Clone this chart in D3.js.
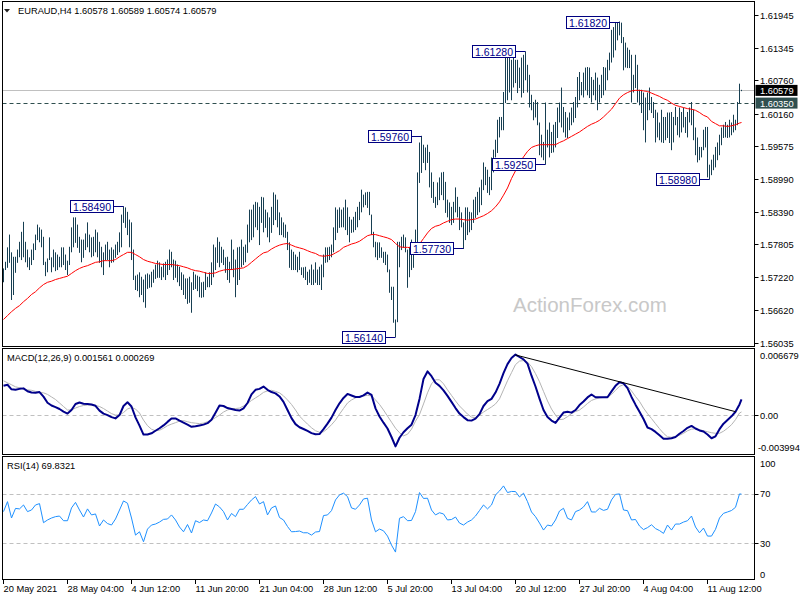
<!DOCTYPE html>
<html>
<head>
<meta charset="utf-8">
<script src="https://cdn.jsdelivr.net/npm/d3@7/dist/d3.min.js"></script>
<style>
html,body{margin:0;padding:0;background:#fff;}
svg{display:block;}
</style>
</head>
<body>
<script>
// ---------- DATA ----------
const titleText = "EURAUD,H4  1.60578 1.60589 1.60574 1.60579";
const macdTitle = "MACD(12,26,9) 0.001561 0.000269";
const rsiTitle = "RSI(14) 69.8321";
const watermark = "ActionForex.com";

// H4 bar highs / lows (one per bar)
const highs = [
1.5737,1.5749,1.5775,1.5798,1.5766,1.5758,1.5758,1.5771,1.5785,1.5803,
1.5821,1.5785,1.5771,1.5757,1.5771,1.5782,1.5798,1.5816,1.5811,1.5807,
1.5794,1.5749,1.5755,1.5793,1.5757,1.5771,1.5766,1.5762,1.5758,1.5775,
1.5775,1.5762,1.5751,1.5776,1.5811,1.5829,1.5829,1.5816,1.5794,1.5789,
1.5789,1.5800,1.5820,1.5798,1.5793,1.5794,1.5807,1.5802,1.5785,1.5776,
1.5766,1.5780,1.5785,1.5771,1.5775,1.5771,1.5780,1.5785,1.5802,1.5834,
1.5849,1.5847,1.5839,1.5825,1.5820,1.5771,1.5724,1.5726,1.5730,1.5722,
1.5717,1.5726,1.5728,1.5726,1.5731,1.5735,1.5744,1.5751,1.5748,1.5740,
1.5746,1.5749,1.5753,1.5771,1.5767,1.5753,1.5751,1.5744,1.5740,1.5730,
1.5726,1.5719,1.5719,1.5722,1.5712,1.5731,1.5726,1.5724,1.5722,
1.5712,1.5713,1.5730,1.5722,1.5730,1.5748,1.5780,1.5775,1.5793,1.5785,
1.5776,1.5771,1.5757,1.5758,1.5749,1.5789,1.5771,1.5753,1.5775,1.5776,
1.5789,1.5776,1.5780,1.5816,1.5843,1.5843,1.5852,1.5857,1.5856,1.5848,
1.5866,1.5865,1.5843,1.5838,1.5829,1.5848,1.5874,1.5870,1.5861,1.5838,
1.5829,1.5820,1.5816,1.5803,1.5784,1.5771,1.5767,1.5762,1.5758,1.5767,
1.5739,1.5739,1.5740,1.5731,1.5735,1.5744,1.5735,1.5748,1.5735,1.5740,
1.5744,1.5762,1.5775,1.5775,1.5776,1.5780,1.5811,1.5847,1.5843,1.5847,
1.5843,1.5847,1.5861,1.5847,1.5830,1.5825,1.5830,1.5839,1.5848,1.5857,
1.5879,1.5870,1.5874,1.5875,1.5875,1.5834,1.5803,1.5785,1.5784,1.5784,
1.5775,1.5767,1.5767,1.5762,1.5735,1.5704,1.5704,1.5645,1.5785,1.5785,
1.5794,1.5798,1.5793,1.5771,1.5776,1.5789,1.5776,1.5807,1.5910,1.5964,
1.5976,1.5960,1.5955,1.5960,1.5947,1.5910,1.5893,1.5866,1.5892,1.5901,
1.5910,1.5911,1.5893,1.5861,1.5856,1.5848,1.5857,1.5883,1.5866,1.5848,
1.5838,1.5820,1.5847,1.5847,1.5839,1.5838,1.5861,1.5866,1.5875,1.5883,
1.5897,1.5928,1.5920,1.5915,1.5902,1.5937,1.5951,1.5969,1.6005,1.6010,
1.6010,1.6055,1.6126,1.6122,1.6117,1.6113,1.6117,1.6113,1.6113,1.6099,
1.6117,1.6122,1.6128,1.6104,1.6086,1.6050,1.6037,1.6041,1.6037,1.6000,
1.5978,1.5965,1.6036,1.5987,1.6000,1.5983,1.5996,1.6001,1.6027,1.6036,
1.6063,1.6028,1.6019,1.6009,1.6018,1.6027,1.6037,1.6046,1.6082,1.6091,
1.6073,1.6090,1.6099,1.6100,1.6099,1.6082,1.6077,1.6090,1.6081,1.6068,
1.6086,1.6100,1.6099,1.6113,1.6126,1.6167,1.6172,1.6180,1.6181,1.6182,
1.6180,1.6154,1.6144,1.6135,1.6131,1.6122,1.6086,1.6122,1.6104,1.6059,
1.6059,1.6054,1.6045,1.6054,1.6063,1.6046,1.6037,1.6023,1.6018,1.6000,
1.6023,1.6010,1.6010,1.6018,1.6018,1.6019,1.6010,1.6028,1.6010,1.6027,
1.6019,1.6027,1.6010,1.6019,1.6027,1.6037,1.6023,1.5991,1.5973,1.5956,
1.5956,1.5987,1.5992,1.5992,1.5924,1.5933,1.5942,1.5956,1.5964,1.5978,
1.5991,1.5996,1.6001,1.5996,1.6005,1.6000,1.6014,1.6005,1.6037,1.6070,
1.60589];
const lows = [
1.5713,1.5735,1.5739,1.5748,1.5681,1.5690,1.5730,1.5748,1.5758,1.5753,
1.5758,1.5749,1.5740,1.5735,1.5744,1.5753,1.5771,1.5789,1.5785,1.5776,
1.5744,1.5724,1.5731,1.5753,1.5731,1.5740,1.5733,1.5735,1.5740,1.5740,
1.5744,1.5735,1.5726,1.5744,1.5767,1.5776,1.5784,1.5775,1.5766,1.5749,
1.5757,1.5771,1.5776,1.5767,1.5758,1.5760,1.5767,1.5758,1.5748,1.5740,
1.5726,1.5753,1.5753,1.5740,1.5748,1.5749,1.5757,1.5762,1.5767,1.5776,
1.5820,1.5811,1.5798,1.5776,1.5753,1.5717,1.5699,1.5697,1.5686,1.5690,
1.5677,1.5667,1.5701,1.5703,1.5704,1.5712,1.5719,1.5721,1.5721,1.5717,
1.5722,1.5717,1.5726,1.5735,1.5740,1.5717,1.5721,1.5713,1.5706,1.5699,
1.5690,1.5683,1.5674,1.5676,1.5658,1.5699,1.5701,1.5697,1.5686,
1.5685,1.5686,1.5699,1.5704,1.5704,1.5708,1.5722,1.5735,1.5748,1.5740,
1.5748,1.5744,1.5730,1.5717,1.5712,1.5735,1.5722,1.5686,1.5708,1.5717,
1.5740,1.5744,1.5749,1.5766,1.5785,1.5789,1.5794,1.5812,1.5807,1.5780,
1.5820,1.5803,1.5811,1.5794,1.5785,1.5802,1.5816,1.5825,1.5812,1.5798,
1.5798,1.5794,1.5793,1.5771,1.5739,1.5735,1.5735,1.5735,1.5731,1.5735,
1.5726,1.5721,1.5717,1.5708,1.5712,1.5708,1.5708,1.5712,1.5708,1.5708,
1.5699,1.5722,1.5748,1.5749,1.5753,1.5758,1.5767,1.5789,1.5802,1.5811,
1.5812,1.5812,1.5807,1.5798,1.5785,1.5802,1.5803,1.5807,1.5812,1.5825,
1.5839,1.5848,1.5852,1.5847,1.5834,1.5798,1.5776,1.5758,1.5753,1.5757,
1.5757,1.5748,1.5744,1.5731,1.5694,1.5681,1.5640,1.5614,1.5641,1.5740,
1.5771,1.5775,1.5767,1.5703,1.5722,1.5735,1.5739,1.5771,1.5785,1.5892,
1.5910,1.5928,1.5915,1.5928,1.5884,1.5865,1.5856,1.5847,1.5852,1.5861,
1.5870,1.5861,1.5838,1.5830,1.5820,1.5816,1.5820,1.5839,1.5830,1.5807,
1.5812,1.5773,1.5789,1.5798,1.5803,1.5807,1.5820,1.5829,1.5834,1.5839,
1.5852,1.5879,1.5888,1.5874,1.5870,1.5879,1.5911,1.5938,1.5946,1.5974,
1.5987,1.5987,1.6036,1.6041,1.6055,1.6041,1.6064,1.6072,1.6054,1.6063,
1.6046,1.6054,1.6077,1.6055,1.6028,1.6023,1.6005,1.6010,1.5996,1.5942,
1.5938,1.5933,1.5925,1.5956,1.5938,1.5946,1.5947,1.5956,1.5973,1.6001,
1.5992,1.5983,1.5974,1.5973,1.5987,1.5996,1.6001,1.6009,1.6028,1.6041,
1.6050,1.6046,1.6059,1.6050,1.6045,1.6037,1.6050,1.6041,1.6023,1.6037,
1.6045,1.6050,1.6059,1.6077,1.6095,1.6109,1.6118,1.6131,1.6149,1.6158,
1.6144,1.6095,1.6100,1.6099,1.6099,1.6037,1.6055,1.6063,1.6037,1.6032,
1.6018,1.5987,1.5965,1.6005,1.6023,1.6018,1.6009,1.5965,1.5974,1.5969,
1.5965,1.5964,1.5969,1.5973,1.5964,1.5951,1.5965,1.5996,1.5978,1.5974,
1.5983,1.5992,1.5982,1.5974,1.6001,1.5996,1.5969,1.5942,1.5929,1.5933,
1.5938,1.5951,1.5956,1.5902,1.5898,1.5906,1.5915,1.5920,1.5933,1.5942,
1.5960,1.5973,1.5974,1.5973,1.5974,1.5978,1.5983,1.5987,1.5996,1.6036,
1.60574];

// indicator values, sampled every 2nd bar (plus the final bar)
const maVals = [
1.5645,1.5652,1.5659,1.5665,1.5670,1.5677,1.5683,1.5690,1.5695,1.5702,
1.5708,1.5712,1.5714,1.5717,1.5719,1.5721,1.5723,1.5728,1.5733,1.5737,
1.5740,1.5742,1.5745,1.5748,1.5749,1.5751,1.5751,1.5751,1.5753,1.5758,
1.5762,1.5766,1.5766,1.5762,1.5758,1.5753,1.5750,1.5748,1.5746,1.5745,
1.5744,1.5744,1.5744,1.5743,1.5742,1.5740,1.5738,1.5735,1.5733,1.5732,
1.5730,1.5728,1.5728,1.5729,1.5732,1.5734,1.5735,1.5735,1.5736,1.5737,
1.5738,1.5742,1.5748,1.5754,1.5760,1.5765,1.5767,1.5772,1.5776,1.5779,
1.5781,1.5782,1.5779,1.5776,1.5774,1.5772,1.5769,1.5766,1.5764,1.5760,
1.5759,1.5760,1.5761,1.5765,1.5769,1.5775,1.5778,1.5781,1.5783,1.5786,
1.5791,1.5796,1.5798,1.5798,1.5796,1.5794,1.5792,1.5789,1.5782,1.5776,
1.5775,1.5775,1.5774,1.5774,1.5781,1.5791,1.5801,1.5809,1.5813,1.5815,
1.5819,1.5822,1.5825,1.5826,1.5826,1.5825,1.5824,1.5825,1.5826,1.5829,
1.5832,1.5836,1.5841,1.5848,1.5857,1.5869,1.5882,1.5899,1.5913,1.5927,
1.5938,1.5948,1.5955,1.5958,1.5960,1.5960,1.5960,1.5960,1.5960,1.5964,
1.5967,1.5971,1.5975,1.5979,1.5983,1.5988,1.5993,1.5997,1.6000,1.6004,
1.6010,1.6017,1.6024,1.6034,1.6044,1.6050,1.6054,1.6057,1.6058,1.6058,
1.6057,1.6056,1.6053,1.6050,1.6047,1.6043,1.6040,1.6035,1.6031,1.6029,
1.6027,1.6025,1.6024,1.6022,1.6018,1.6013,1.6010,1.6002,1.5998,1.5994,
1.5994,1.5993,1.5994,1.5996,1.5999,1.6000];
const macdVals = [
0.00295,0.00306,0.00259,0.00254,0.00264,0.00269,0.00240,0.00226,0.00223,0.00231,
0.00184,0.00122,0.00093,0.00076,0.00057,0.00031,0.00010,0.00047,0.00109,0.00124,
0.00111,0.00109,0.00103,0.00090,0.00041,0.00010,-0.00005,-0.00026,-0.00039,-0.00005,
0.00088,0.00126,0.00083,-0.00029,-0.00114,-0.00205,-0.00205,-0.00192,-0.00166,-0.00140,
-0.00111,-0.00075,-0.00041,-0.00039,-0.00062,-0.00083,-0.00104,-0.00126,-0.00119,-0.00111,
-0.00103,-0.00088,-0.00052,0.00019,0.00093,0.00088,0.00067,0.00057,0.00047,0.00041,
0.00064,0.00119,0.00207,0.00254,0.00264,0.00288,0.00254,0.00231,0.00218,0.00186,
0.00130,0.00047,-0.00036,-0.00098,-0.00130,-0.00148,-0.00168,-0.00190,-0.00202,-0.00200,
-0.00150,-0.00093,-0.00031,0.00047,0.00116,0.00171,0.00212,0.00196,0.00181,0.00181,
0.00197,0.00226,0.00202,0.00064,-0.00019,-0.00083,-0.00143,-0.00230,-0.00326,-0.00238,
-0.00181,-0.00140,-0.00104,-0.00005,0.00161,0.00365,0.00443,0.00394,0.00326,0.00295,
0.00249,0.00192,0.00130,0.00067,0.00010,-0.00026,-0.00057,-0.00062,-0.00041,0.00005,
0.00088,0.00137,0.00161,0.00226,0.00316,0.00425,0.00518,0.00580,0.00616,0.00591,
0.00567,0.00523,0.00399,0.00288,0.00164,0.00047,-0.00026,-0.00062,-0.00085,-0.00031,
0.00021,0.00028,0.00020,0.00047,0.00098,0.00134,0.00176,0.00206,0.00178,0.00178,
0.00178,0.00178,0.00238,0.00295,0.00332,0.00321,0.00271,0.00181,0.00102,0.00029,
-0.00045,-0.00133,-0.00150,-0.00178,-0.00212,-0.00247,-0.00247,-0.00243,-0.00230,-0.00197,
-0.00168,-0.00136,-0.00116,-0.00143,-0.00163,-0.00174,-0.00205,-0.00243,-0.00223,-0.00150,
-0.00093,-0.00055,-0.00018,0.00029,0.00104,0.00156];
const signalVals = [
0.00347,0.00326,0.00306,0.00285,0.00275,0.00264,0.00254,0.00249,0.00238,0.00228,
0.00223,0.00207,0.00181,0.00155,0.00119,0.00083,0.00047,0.00047,0.00067,0.00083,
0.00093,0.00098,0.00098,0.00093,0.00083,0.00062,0.00036,0.00010,-0.00005,-0.00005,
0.00021,0.00057,0.00073,0.00057,0.00016,-0.00057,-0.00114,-0.00150,-0.00166,-0.00161,
-0.00140,-0.00114,-0.00098,-0.00083,-0.00067,-0.00062,-0.00073,-0.00083,-0.00088,-0.00093,
-0.00088,-0.00073,-0.00057,-0.00031,-0.00005,0.00026,0.00047,0.00062,0.00062,0.00067,
0.00088,0.00114,0.00145,0.00171,0.00197,0.00228,0.00243,0.00249,0.00238,0.00223,
0.00192,0.00150,0.00104,0.00047,-0.00016,-0.00057,-0.00098,-0.00135,-0.00166,-0.00181,
-0.00176,-0.00145,-0.00104,-0.00057,0.00005,0.00062,0.00119,0.00150,0.00171,0.00186,
0.00192,0.00197,0.00192,0.00150,0.00104,0.00047,-0.00016,-0.00078,-0.00140,-0.00186,
-0.00218,-0.00202,-0.00150,-0.00067,0.00000,0.00109,0.00223,0.00316,0.00357,0.00357,
0.00316,0.00254,0.00197,0.00140,0.00088,0.00047,0.00005,-0.00026,-0.00031,-0.00005,
0.00026,0.00052,0.00078,0.00109,0.00161,0.00254,0.00347,0.00430,0.00513,0.00549,
0.00554,0.00539,0.00492,0.00420,0.00337,0.00238,0.00140,0.00057,-0.00005,-0.00052,
-0.00047,-0.00021,0.00010,0.00031,0.00047,0.00078,0.00114,0.00145,0.00161,0.00171,
0.00176,0.00181,0.00207,0.00249,0.00290,0.00306,0.00290,0.00243,0.00186,0.00135,
0.00067,0.00010,-0.00041,-0.00093,-0.00145,-0.00192,-0.00228,-0.00233,-0.00228,-0.00212,
-0.00192,-0.00166,-0.00150,-0.00145,-0.00155,-0.00166,-0.00176,-0.00186,-0.00192,-0.00192,
-0.00171,-0.00140,-0.00104,-0.00052,0.00016,0.00027];
const rsiVals = [
55.6,63.7,50.4,58.2,57.8,61.0,55.6,56.9,61.0,62.1,
46.6,48.8,50.4,51.5,52.0,48.2,48.2,58.6,63.1,56.9,
51.2,57.8,52.9,53.7,43.9,48.8,45.9,44.7,49.6,56.9,
64.3,62.4,50.4,36.5,39.2,31.1,41.4,44.7,45.5,47.1,
49.3,49.6,52.9,48.8,43.1,39.2,45.1,38.2,48.2,46.7,
48.8,48.2,54.5,61.8,59.4,55.6,48.8,54.1,51.5,57.5,
57.5,61.4,65.1,67.8,61.8,63.7,52.9,58.6,60.2,50.8,
48.8,43.5,39.2,39.4,39.8,38.4,38.4,36.5,39.0,39.4,
52.4,52.9,56.4,65.1,69.2,70.6,67.8,58.6,57.5,61.0,
65.9,66.5,48.8,39.2,41.4,40.0,35.7,28.4,22.7,50.2,
51.5,48.2,48.4,55.6,71.1,66.3,66.5,56.9,52.9,54.7,
53.7,48.8,49.2,51.2,46.3,44.7,47.1,48.8,52.0,56.5,
61.0,57.8,61.0,69.2,72.4,76.5,71.1,72.0,71.9,67.5,
70.6,63.7,55.3,51.5,46.3,40.6,44.7,43.9,48.8,56.1,
58.3,50.2,48.8,55.6,56.9,59.4,63.7,55.3,55.3,58.3,
56.6,57.5,65.1,69.6,70.0,56.9,56.4,48.8,49.2,43.9,
41.0,42.6,44.9,41.8,40.2,37.9,44.7,40.6,45.5,45.5,
47.1,48.2,52.0,43.1,38.4,42.2,35.7,35.7,41.2,50.4,
54.2,55.3,56.5,59.1,70.0,69.8];

// axis labels
const priceTicks = [1.61945,1.61345,1.60760,1.60160,1.59575,1.58990,1.58390,1.57805,1.57220,1.56620,1.56035];
const dateTickBars = [0,32,64,96,128,160,192,224,256,288,320,352];
const dateLabels = ["20 May 2021","28 May 04:00","4 Jun 12:00","11 Jun 20:00","21 Jun 04:00","28 Jun 12:00","5 Jul 20:00","13 Jul 04:00","20 Jul 12:00","27 Jul 20:00","4 Aug 04:00","11 Aug 12:00"];
const macdMax = 0.006679, macdMin = -0.003994;
const rsiLevels = [70, 30];
const rsiAxisLabels = [100, 70, 30, 0];

// price annotations (swing highs/lows)
const annBars = [60, 196, 209, 230, 261, 271, 308, 353];
const annPrices = [1.58490, 1.56140, 1.59760, 1.57730, 1.61280, 1.59250, 1.61820, 1.58980];

const bidPrice = 1.60579;
const levelPrice = 1.60350;
const trendBars = [256, 366];
const trendVals = [0.00612, 0.00030];

// ---------- DRAW ----------
const FONT = '"Liberation Sans", Arial, sans-serif';
const N = highs.length;
const svg = d3.select("body").append("svg")
  .attr("width", 800).attr("height", 600)
  .style("font-family", FONT);
svg.append("rect").attr("width", 800).attr("height", 600).attr("fill", "#fff");

const L = 2.5, R = 754.5;
const P = {main: [1.5, 346.5], macd: [348.5, 454.5], rsi: [456.5, 579.5]};

const x = d3.scaleLinear().domain([0, N - 1]).range([3.5, 741.5]);
const y = d3.scaleLinear().domain([1.56035, 1.61945]).range([342.5, 14.6]);
const yM = d3.scaleLinear().domain([macdMin, macdMax]).range([453.5, 349.5]);
const yR = d3.scaleLinear().domain([0, 100]).range([580, 457]);
const sb = k => Math.min(2 * k, N - 1);

const defs = svg.append("defs");
Object.entries(P).forEach(([k, [t, b]]) => {
  defs.append("clipPath").attr("id", "clip-" + k)
    .append("rect").attr("x", L).attr("y", t).attr("width", R - L).attr("height", b - t);
});

// ----- main panel -----
const gM = svg.append("g").attr("clip-path", "url(#clip-main)");
gM.append("text").attr("x", 513).attr("y", 312).attr("font-size", 20.5)
  .attr("fill", "#c8c8c8").text(watermark);

gM.append("line").attr("x1", L).attr("x2", R)
  .attr("y1", Math.round(y(bidPrice)) + 0.5).attr("y2", Math.round(y(bidPrice)) + 0.5)
  .attr("stroke", "#c0c0c0").attr("stroke-width", 1);
gM.append("line").attr("x1", L).attr("x2", R)
  .attr("y1", Math.round(y(levelPrice)) + 0.5).attr("y2", Math.round(y(levelPrice)) + 0.5)
  .attr("stroke", "#2f4f4f").attr("stroke-width", 1).attr("stroke-dasharray", "4,3");

gM.append("g").selectAll("line").data(d3.range(N)).join("line")
  .attr("x1", i => x(i)).attr("x2", i => x(i))
  .attr("y1", i => y(highs[i])).attr("y2", i => y(lows[i]) + 0.5)
  .attr("stroke", "#173f52").attr("stroke-width", 1);

gM.append("path").datum(maVals)
  .attr("d", d3.line().x((d, k) => x(sb(k))).y(d => y(d)))
  .attr("fill", "none").attr("stroke", "#ff0000").attr("stroke-width", 1);

const ann = gM.append("g");
annBars.forEach((b, j) => {
  const bx = x(b), by = Math.round(y(annPrices[j])) + 0.5;
  ann.append("line").attr("x1", bx - 10).attr("x2", bx).attr("y1", by).attr("y2", by)
    .attr("stroke", "#000080").attr("stroke-width", 1);
  ann.append("rect").attr("x", bx - 53).attr("y", by - 6).attr("width", 43).attr("height", 12)
    .attr("fill", "#fff").attr("stroke", "#000080").attr("stroke-width", 1);
  ann.append("text").attr("x", bx - 31.5).attr("y", by + 4).attr("text-anchor", "middle")
    .attr("font-size", 10.5).attr("fill", "#00008b").text(annPrices[j].toFixed(5));
});

// header
svg.append("path").attr("d", "M4,9 L10,9 L7,12.5 Z").attr("fill", "#222");
svg.append("text").attr("x", 18).attr("y", 14).attr("font-size", 9.3).attr("fill", "#000").text(titleText);

// ----- MACD panel -----
const gD = svg.append("g").attr("clip-path", "url(#clip-macd)");
const z0 = Math.round(yM(0)) + 0.5;
gD.append("line").attr("x1", L).attr("x2", R).attr("y1", z0).attr("y2", z0)
  .attr("stroke", "#c0c0c0").attr("stroke-dasharray", "4,3");
gD.append("path").datum(signalVals)
  .attr("d", d3.line().x((d, k) => x(sb(k))).y(d => yM(d)))
  .attr("fill", "none").attr("stroke", "#b4b4b4").attr("stroke-width", 1);
gD.append("path").datum(macdVals)
  .attr("d", d3.line().x((d, k) => x(sb(k))).y(d => yM(d)))
  .attr("fill", "none").attr("stroke", "#00008b").attr("stroke-width", 2).attr("stroke-linejoin", "round");
gD.append("line")
  .attr("x1", x(trendBars[0])).attr("y1", yM(trendVals[0]))
  .attr("x2", x(trendBars[1])).attr("y2", yM(trendVals[1]))
  .attr("stroke", "#000").attr("stroke-width", 1);
svg.append("text").attr("x", 7).attr("y", 361).attr("font-size", 9.3).text(macdTitle);

// ----- RSI panel -----
const gR = svg.append("g").attr("clip-path", "url(#clip-rsi)");
rsiLevels.forEach(v => {
  const yy = Math.round(yR(v)) + 0.5;
  gR.append("line").attr("x1", L).attr("x2", R).attr("y1", yy).attr("y2", yy)
    .attr("stroke", "#c0c0c0").attr("stroke-dasharray", "4,3");
});
gR.append("path").datum(rsiVals)
  .attr("d", d3.line().x((d, k) => x(sb(k))).y(d => yR(d)))
  .attr("fill", "none").attr("stroke", "#1e90ff").attr("stroke-width", 1);
svg.append("text").attr("x", 7).attr("y", 469).attr("font-size", 9.3).text(rsiTitle);

// ----- frames -----
Object.values(P).forEach(([t, b]) => {
  svg.append("rect").attr("x", L).attr("y", t).attr("width", R - L).attr("height", b - t)
    .attr("fill", "none").attr("stroke", "#000").attr("stroke-width", 1);
});

// ----- right axes -----
const ax = svg.append("g").attr("font-size", 9.3).attr("fill", "#000");
priceTicks.forEach(p => {
  const yy = Math.round(y(p)) + 0.5;
  ax.append("line").attr("x1", R).attr("x2", R + 4).attr("y1", yy).attr("y2", yy).attr("stroke", "#000");
  ax.append("text").attr("x", 760).attr("y", yy + 3.5).text(p.toFixed(5));
});
[[bidPrice, "#000000"], [levelPrice, "#2f4f4f"]].forEach(([p, c]) => {
  const yy = y(p);
  ax.append("rect").attr("x", 755.5).attr("y", yy - 5.5).attr("width", 42).attr("height", 11).attr("fill", c);
  ax.append("text").attr("x", 760).attr("y", yy + 3.5).attr("fill", "#fff").text(p.toFixed(5));
});
ax.append("text").attr("x", 760).attr("y", yM(macdMax) + 9).text(macdMax.toFixed(6));
ax.append("line").attr("x1", R).attr("x2", R + 4).attr("y1", z0).attr("y2", z0).attr("stroke", "#000");
ax.append("text").attr("x", 760).attr("y", z0 + 3.5).text("0.00");
ax.append("text").attr("x", 758).attr("y", yM(macdMin) - 3).text(macdMin.toFixed(6));
rsiAxisLabels.forEach(v => {
  let yy = yR(v);
  if (v === 100) yy += 6;
  if (v === 0) yy -= 6;
  if (v !== 100 && v !== 0) {
    const ty = Math.round(yR(v)) + 0.5;
    ax.append("line").attr("x1", R).attr("x2", R + 4).attr("y1", ty).attr("y2", ty).attr("stroke", "#000");
  }
  ax.append("text").attr("x", 760).attr("y", yy + 3.5).text(v);
});

// ----- time axis -----
const tx = svg.append("g").attr("font-size", 9.3).attr("fill", "#000");
dateTickBars.forEach((b, j) => {
  const xx = Math.round(x(b)) - 0.5;
  tx.append("line").attr("x1", xx).attr("x2", xx).attr("y1", 579.5).attr("y2", 584).attr("stroke", "#000");
  tx.append("text").attr("x", xx).attr("y", 592).text(dateLabels[j]);
});
</script>
</body>
</html>
